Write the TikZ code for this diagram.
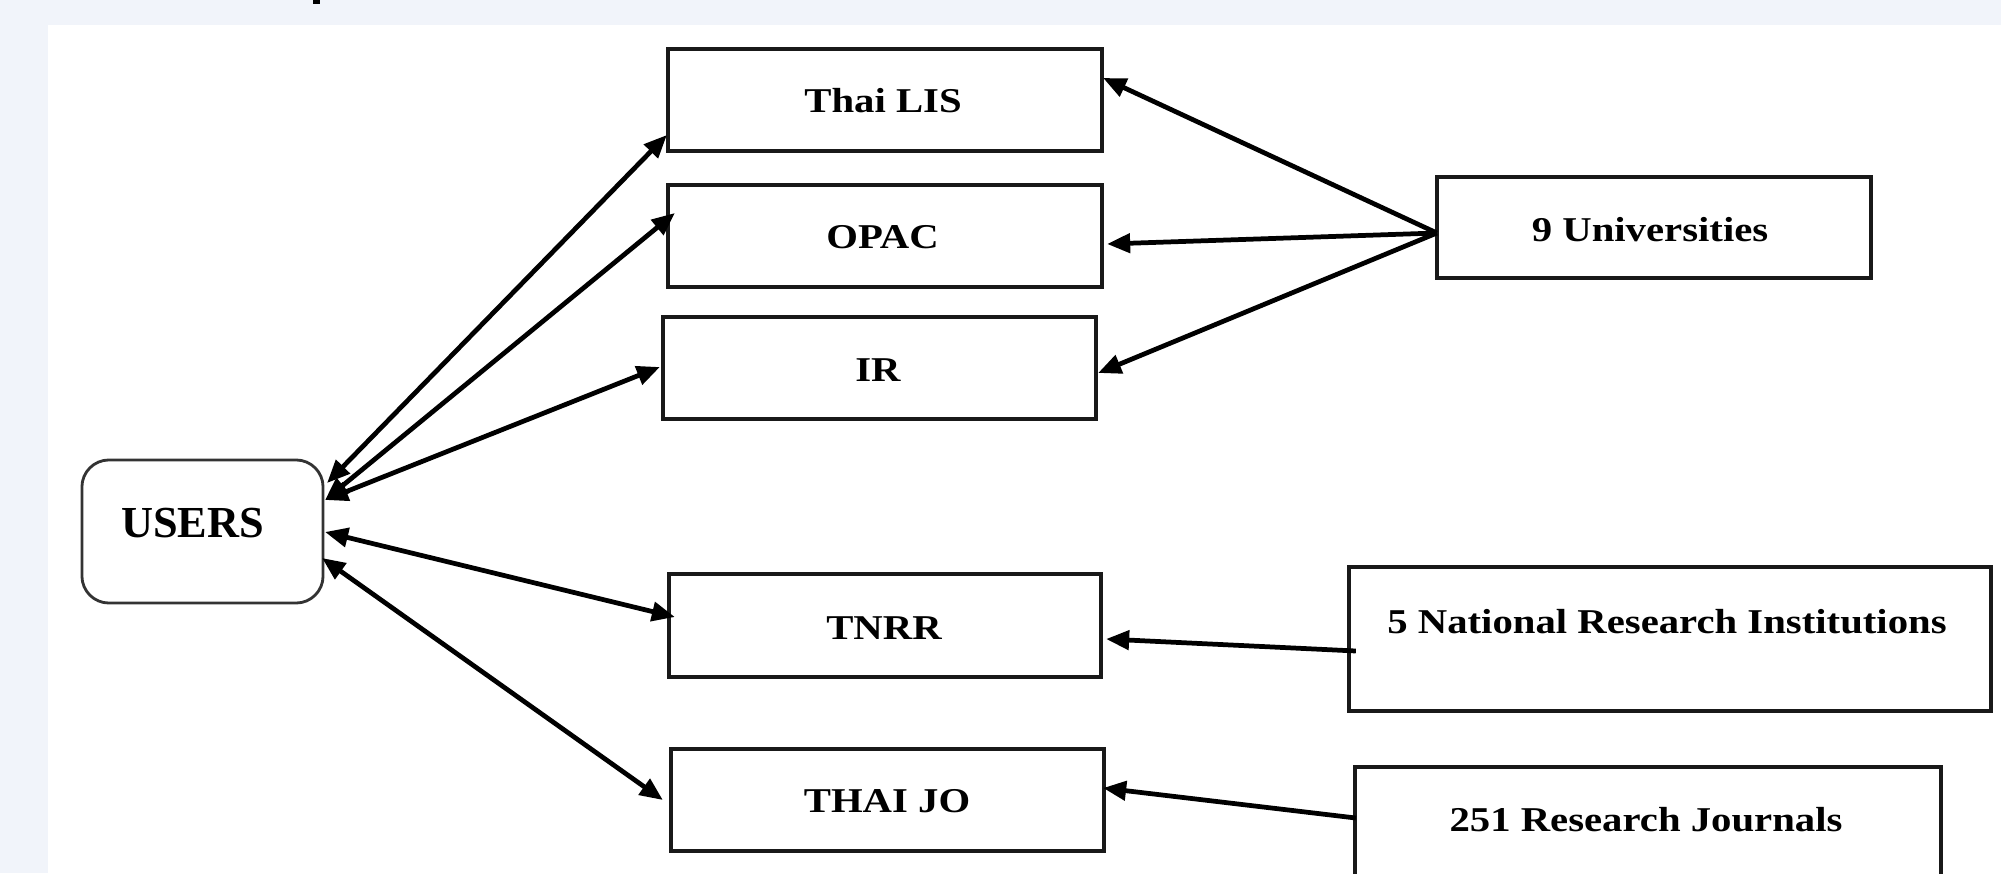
\documentclass[tikz,border=0pt]{standalone}
\usepackage{fontspec}
\newfontfamily\boxfont[FakeStretch=1.17]{Liberation Serif}
\newfontfamily\usersfont{Liberation Serif}
\usetikzlibrary{arrows.meta}
\definecolor{bgout}{RGB}{241,244,250}
\begin{document}
\begin{tikzpicture}[x=0.01cm,y=-0.01cm,
  box/.style={draw=black!90, line width=1.0pt, inner sep=0pt, outer sep=0pt, fill=white},
  lbl/.style={anchor=base, inner sep=0pt, font=\boxfont\bfseries\fontsize{9.9}{12}\selectfont},
  tip/.tip={Triangle[length=0.23cm,width=0.19cm]},
  conn/.style={line width=1.35pt, -tip},
  dconn/.style={line width=1.35pt, tip-tip}
]
\clip (0,0) rectangle (2001,873);
\fill[bgout] (0,0) rectangle (2001,873);
\fill[white] (48,25) rectangle (2001,873);
\fill[black] (313,0) rectangle (320,4);

% boxes
\node[box, rounded corners=0.27cm, draw=black!80, line width=0.8pt, minimum width=2.41cm, minimum height=1.43cm] (users) at (202.5,531.5) {};
\node[box, minimum width=4.34cm, minimum height=1.02cm] (thailis) at (885,100) {};
\node[box, minimum width=4.34cm, minimum height=1.02cm] (opac) at (885,236) {};
\node[box, minimum width=4.33cm, minimum height=1.02cm] (ir) at (879.5,368) {};
\node[box, minimum width=4.32cm, minimum height=1.03cm] (tnrr) at (885,625.5) {};
\node[box, minimum width=4.33cm, minimum height=1.02cm] (thaijo) at (887.5,800) {};
\node[box, minimum width=4.34cm, minimum height=1.01cm] (univ) at (1654,227.5) {};
\node[box, minimum width=6.42cm, minimum height=1.44cm] (nri) at (1670,639) {};
\node[box, minimum width=5.86cm, minimum height=1.43cm] (journals) at (1648,838.5) {};

% labels
\node[anchor=base, inner sep=0pt, font=\usersfont\bfseries\fontsize{12.6}{14}\selectfont] (users-t) at (192.5,537) {USERS};
\node[lbl] (thailis-t) at (883,113) {Thai LIS};
\node[lbl] (opac-t) at (882.5,248) {OPAC};
\node[lbl] (ir-t) at (878,381) {IR};
\node[lbl] (tnrr-t) at (884,639) {TNRR};
\node[lbl] (thaijo-t) at (887,812) {THAI JO};
\node[lbl] (univ-t) at (1650,241) {9 Universities};
\node[lbl] (nri-t) at (1667,633) {5 National Research Institutions};
\node[lbl] (journals-t) at (1646,831) {251 Research Journals};

% connectors users <-> services
\draw[dconn] ([shift={(4,-48.5)}]users.east) -- ([shift={(-1,35)}]thailis.west);
\draw[dconn] ([shift={(2,-31.5)}]users.east) -- ([shift={(7,-23)}]opac.west);
\draw[dconn] ([shift={(2,-31.5)}]users.east) -- ([shift={(-3,-1)}]ir.west);
\draw[dconn] ([shift={(2,0.5)}]users.east) -- ([shift={(6,-8.5)}]tnrr.west);
\draw[dconn] ([shift={(-1,26.5)}]users.east) -- ([shift={(-8,0)}]thaijo.west);

% connectors providers -> services
\draw[conn] ([shift={(0,5.5)}]univ.west) -- ([shift={(1,-22)}]thailis.east);
\draw[conn] ([shift={(0,5.5)}]univ.west) -- ([shift={(5,8)}]opac.east);
\draw[conn] ([shift={(0,5.5)}]univ.west) -- ([shift={(2,5)}]ir.east);
\draw[conn] ([shift={(7,12)}]nri.west) -- ([shift={(5,13.5)}]tnrr.east);
\draw[conn] ([shift={(1,-20.5)}]journals.west) -- ([shift={(-1,-12)}]thaijo.east);
\end{tikzpicture}
\end{document}
